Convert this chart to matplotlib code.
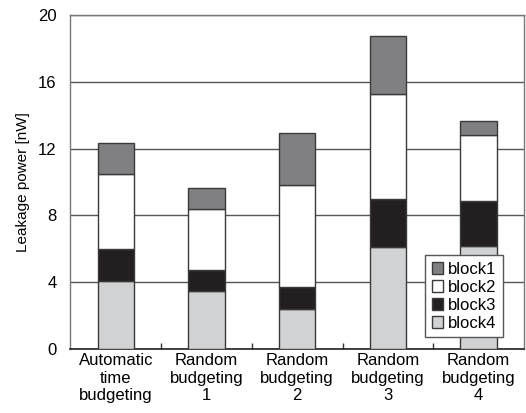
import numpy as np
import matplotlib
matplotlib.use("Agg")
import matplotlib.pyplot as plt

plt.rcParams["font.family"] = ["Liberation Sans", "DejaVu Sans"]

# ── Data ──────────────────────────────────────────────────────────────────────
categories = [
    "Automatic\ntime\nbudgeting",
    "Random\nbudgeting\n1",
    "Random\nbudgeting\n2",
    "Random\nbudgeting\n3",
    "Random\nbudgeting\n4",
]
block4 = [4.09, 3.49, 2.40, 6.11, 6.17]
block3 = [1.91, 1.24, 1.33, 2.87, 2.67]
block2 = [4.48, 3.63, 6.07, 6.31, 3.95]
block1 = [1.84, 1.30, 3.13, 3.43, 0.84]

series = [
    ("block4", block4, "#d1d2d4"),
    ("block3", block3, "#231f20"),
    ("block2", block2, "#ffffff"),
    ("block1", block1, "#808083"),
]

EDGE = "#3a3a3a"
GRID = "#555555"

fig = plt.figure(figsize=(5.26, 4.13), dpi=100)
ax = fig.add_axes([0.134, 0.155, 0.862, 0.809])

x = np.arange(len(categories))
bottom = np.zeros(len(categories))
handles = {}
for name, vals, col in series:
    bars = ax.bar(x, vals, width=0.4, bottom=bottom, color=col,
                  edgecolor=EDGE, linewidth=1.0, zorder=3, label=name)
    handles[name] = bars
    bottom += np.array(vals)

ax.set_xlim(-0.5, len(categories) - 0.5)
ax.set_ylim(0, 20)
ax.set_yticks(np.arange(0, 21, 4))
ax.yaxis.grid(True, color=GRID, linewidth=1.0, zorder=0)
ax.tick_params(axis="y", length=0, pad=10, labelsize=12)

ax.set_xticks(x)
ax.set_xticklabels(categories, fontsize=12, linespacing=1.2)
ax.tick_params(axis="x", which="major", length=0, pad=3)
ax.set_xticks(x[:-1] + 0.5, minor=True)
ax.tick_params(axis="x", which="minor", direction="in", length=4,
               color="#333333", width=1.0)

for side in ("top", "right", "left"):
    ax.spines[side].set_color("#777777")
    ax.spines[side].set_linewidth(1.0)
ax.spines["bottom"].set_color("#222222")
ax.spines["bottom"].set_linewidth(1.2)

ax.set_ylabel("Leakage power [nW]", fontsize=11, labelpad=6)

order = ["block1", "block2", "block3", "block4"]
leg = ax.legend([handles[n] for n in order], order, loc="lower right",
                bbox_to_anchor=(0.955, 0.035), fontsize=12,
                frameon=True, fancybox=False, framealpha=1.0,
                edgecolor="#555555", handlelength=0.7, handleheight=0.7,
                handletextpad=0.3, labelspacing=0.17, borderpad=0.4,
                borderaxespad=0.0)
leg.get_frame().set_linewidth(1.0)
leg.set_zorder(5)

fig.savefig("out.png", dpi=100)
